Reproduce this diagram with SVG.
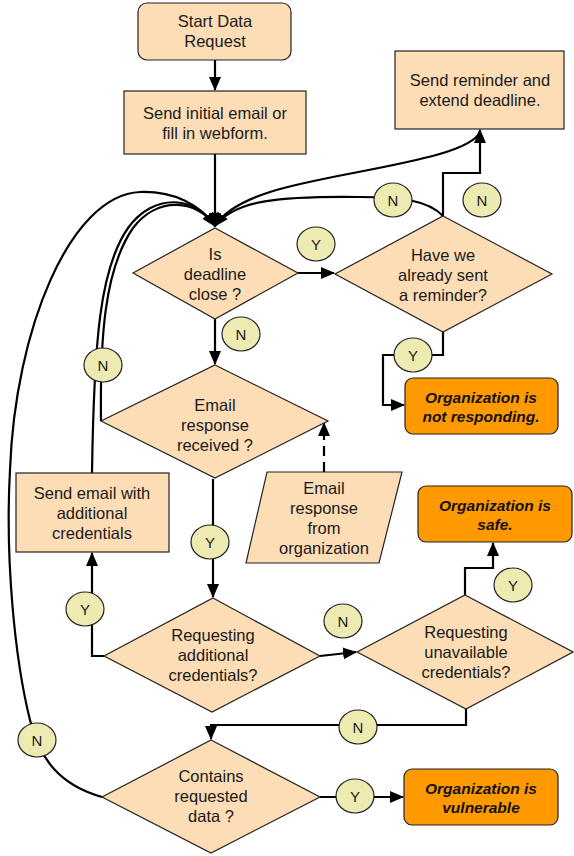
<svg xmlns="http://www.w3.org/2000/svg" width="574" height="856" viewBox="0 0 574 856">
<style>
.n{fill:#FDDDB5;stroke:#222;stroke-width:1.2}
.o{fill:#FF9900;stroke:#222;stroke-width:1.2}
.t{font-family:"Liberation Sans",Arial,sans-serif;font-size:16.5px;fill:#1a1a1a;text-anchor:middle}
.b{font-family:"Liberation Sans",Arial,sans-serif;font-size:15.5px;font-weight:bold;font-style:italic;fill:#111;text-anchor:middle}
.c{fill:none;stroke:#000;stroke-width:2.2}
.a{marker-end:url(#ah)}
.lb ellipse{fill:#EEEBB2;stroke:#222;stroke-width:1.2}
.lb text{font-family:"Liberation Sans",Arial,sans-serif;font-size:15px;fill:#1a1a1a;text-anchor:middle}
</style>
<defs>
<marker id="ah" markerUnits="userSpaceOnUse" markerWidth="14" markerHeight="12" refX="13" refY="6" orient="auto">
<path d="M0,0 L14,6 L0,12 z" fill="#000"/>
</marker>
</defs>
<rect width="574" height="856" fill="#fff"/>

<g id="connectors">
<path class="c a" d="M215,60 L215,90"/>
<path class="c a" d="M215,154 L215,226"/>
<path class="c a" d="M298,273 L334,273"/>
<path class="c a" d="M215,319 L215,364"/>
<path class="c a" d="M443,216 L443,173 L480,173 L480,130"/>
<path class="c a" d="M443,216 C428,200 400,197 360,197 C280,196 235,200 215,226"/>
<path class="c a" d="M480,131 C472,160 330,172 270,192 C245,200 225,210 215,226"/>
<path class="c a" d="M443,332 L443,355 L383,355 L383,405 L404,405"/>
<path class="c a" d="M213,479 L213,597"/>
<path class="c a" d="M101,421 C100,340 104,270 133,228 C158,195 198,200 215,226"/>
<path class="c a" d="M92,473 C94,340 100,268 128,228 C154,192 196,196 215,226"/>
<path class="c a" d="M102,797 C60,785 40,760 30,720 C15,660 5,560 10,470 C15,330 70,195 140,192 C175,191 200,205 215,226"/>
<path class="c a" d="M104,656 L92,656 L92,553"/>
<path class="c a" d="M320,656 L356,652"/>
<path class="c a" d="M465,595 L465,568 L493,568 L493,543"/>
<path class="c a" d="M466,709 L466,725 L211,725 L211,739"/>
<path class="c a" d="M320,797 L403,797"/>
<path class="c a" d="M324,472 L324,423" stroke-dasharray="10,6"/>
</g>

<g id="start"><rect class="n" x="138" y="3" width="153" height="57" rx="9"/>
<text class="t" x="215" y="27">Start Data</text><text class="t" x="215" y="47">Request</text></g>

<g id="send_initial"><rect class="n" x="124" y="91" width="182" height="63"/>
<text class="t" x="215" y="119">Send initial email or</text><text class="t" x="215" y="139">fill in webform.</text></g>

<g id="is_deadline"><polygon class="n" points="215,228 298,273 215,319 133,273"/>
<text class="t" x="215" y="260">Is</text><text class="t" x="215" y="280">deadline</text><text class="t" x="215" y="300">close ?</text></g>

<g id="have_we"><polygon class="n" points="443,216 552,274 443,332 335,274"/>
<text class="t" x="443" y="261">Have we</text><text class="t" x="443" y="281">already sent</text><text class="t" x="443" y="301">a reminder?</text></g>

<g id="send_reminder"><rect class="n" x="395" y="51" width="169" height="78"/>
<text class="t" x="480" y="86">Send reminder and</text><text class="t" x="480" y="106">extend deadline.</text></g>

<g id="not_responding"><rect class="o" x="405" y="378" width="153" height="56" rx="8"/>
<text class="b" x="481" y="403">Organization is</text><text class="b" x="481" y="422">not responding.</text></g>

<g id="email_received"><polygon class="n" points="215,365 328,421 215,478 101,421"/>
<text class="t" x="215" y="411">Email</text><text class="t" x="215" y="431">response</text><text class="t" x="215" y="451">received ?</text></g>

<g id="email_response"><polygon class="n" points="267,472 402,472 379,563 246,563"/>
<text class="t" x="324" y="494">Email</text><text class="t" x="324" y="514">response</text><text class="t" x="324" y="534">from</text><text class="t" x="324" y="554">organization</text></g>

<g id="send_credentials"><rect class="n" x="16" y="473" width="153" height="79"/>
<text class="t" x="92" y="499">Send email with</text><text class="t" x="92" y="519">additional</text><text class="t" x="92" y="539">credentials</text></g>

<g id="req_additional"><polygon class="n" points="213,598 320,656 212,712 104,656"/>
<text class="t" x="213" y="641">Requesting</text><text class="t" x="213" y="661">additional</text><text class="t" x="213" y="681">credentials?</text></g>

<g id="req_unavailable"><polygon class="n" points="465,595 573,652 466,709 357,652"/>
<text class="t" x="466" y="638">Requesting</text><text class="t" x="466" y="658">unavailable</text><text class="t" x="466" y="678">credentials?</text></g>

<g id="safe"><rect class="o" x="418" y="486" width="154" height="56" rx="8"/>
<text class="b" x="495" y="511">Organization is</text><text class="b" x="495" y="530">safe.</text></g>

<g id="contains"><polygon class="n" points="211,740 320,797 211,853 102,797"/>
<text class="t" x="211" y="782">Contains</text><text class="t" x="211" y="802">requested</text><text class="t" x="211" y="822">data ?</text></g>

<g id="vulnerable"><rect class="o" x="404" y="769" width="154" height="56" rx="8"/>
<text class="b" x="481" y="794">Organization is</text><text class="b" x="481" y="813">vulnerable</text></g>

<g id="labels" class="lb">
<ellipse cx="316" cy="244" rx="19" ry="17"/><text x="316" y="250">Y</text>
<ellipse cx="393" cy="200" rx="19" ry="17"/><text x="393" y="206">N</text>
<ellipse cx="482" cy="200" rx="19" ry="17"/><text x="482" y="206">N</text>
<ellipse cx="241" cy="334" rx="19" ry="17"/><text x="241" y="340">N</text>
<ellipse cx="103" cy="365" rx="19" ry="17"/><text x="103" y="371">N</text>
<ellipse cx="413" cy="355" rx="19" ry="17"/><text x="413" y="361">Y</text>
<ellipse cx="210" cy="542" rx="19" ry="17"/><text x="210" y="548">Y</text>
<ellipse cx="85" cy="609" rx="19" ry="17"/><text x="85" y="615">Y</text>
<ellipse cx="343" cy="621" rx="19" ry="17"/><text x="343" y="627">N</text>
<ellipse cx="513" cy="585" rx="19" ry="17"/><text x="513" y="591">Y</text>
<ellipse cx="358" cy="727" rx="19" ry="17"/><text x="358" y="733">N</text>
<ellipse cx="37" cy="740" rx="19" ry="17"/><text x="37" y="746">N</text>
<ellipse cx="355" cy="796" rx="19" ry="17"/><text x="355" y="802">Y</text>
</g>
</svg>
